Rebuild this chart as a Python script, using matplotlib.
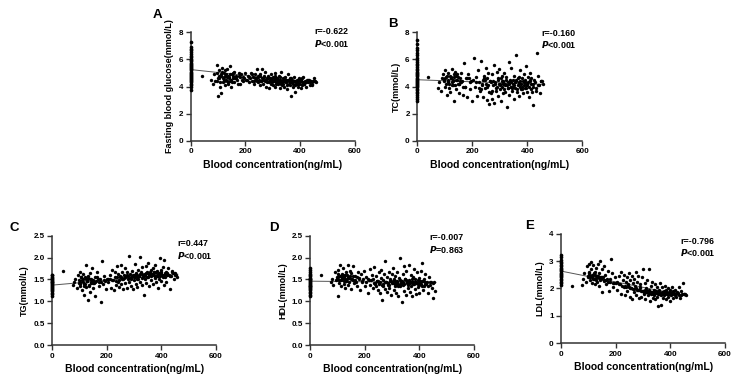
import numpy as np
import matplotlib
matplotlib.use("Agg")
import matplotlib.pyplot as plt

plt.rcParams['font.family'] = ['Liberation Sans', 'DejaVu Sans']
plt.rcParams['font.weight'] = 'bold'

# blood concentration (ng/mL), shared by all five panels
conc = [40, 75, 80, 85, 90, 95, 98, 100, 102, 105,
        108, 110, 112, 115, 118, 120, 122, 125, 128, 130,
        132, 135, 138, 140, 142, 145, 148, 150, 155, 158,
        160, 165, 170, 175, 180, 182, 185, 190, 195, 200,
        205, 210, 215, 218, 220, 225, 228, 230, 235, 238,
        240, 242, 245, 248, 250, 252, 255, 258, 260, 262,
        265, 268, 270, 272, 275, 278, 280, 282, 285, 288,
        290, 292, 295, 298, 300, 302, 305, 308, 310, 312,
        315, 318, 320, 322, 325, 328, 330, 332, 335, 338,
        340, 342, 345, 348, 350, 352, 355, 358, 360, 362,
        365, 368, 370, 372, 375, 378, 380, 382, 385, 388,
        390, 392, 395, 398, 400, 402, 405, 408, 410, 412,
        415, 418, 420, 425, 430, 435, 440, 445, 450, 458,
        97, 103, 107, 113, 117, 123, 127, 133, 137, 143,
        147, 153, 163, 172, 188, 212, 232, 247, 257, 267,
        277, 287, 297, 303, 307, 313, 317, 323, 327, 333,
        337, 343, 347, 353, 357, 363, 367, 373, 377, 383,
        387, 393, 397, 403, 407, 413, 422, 432, 442, 448,
        101, 111, 121, 126, 131, 141, 151, 156, 166, 178,
        193, 203, 223, 236, 244, 253, 263, 273, 283, 293,
        299, 309, 319, 329, 339, 349, 359, 369, 379, 389,
        399, 409, 419, 428, 438, 453, 311, 341, 371, 396]

glu = [4.8, 4.5, 4.2, 4.9, 4.4, 5.0, 5.6, 3.3, 4.6, 5.2,
       4.0, 3.5, 4.8, 5.4, 4.3, 4.7, 5.0, 4.1, 4.9, 4.5,
       5.3, 4.2, 4.8, 4.6, 5.5, 4.4, 4.0, 4.9, 4.6, 5.1,
       4.3, 4.8, 4.5, 5.0, 4.2, 4.7, 4.9, 4.4, 4.6, 5.0,
       4.5, 4.8, 4.3, 4.6, 5.0, 4.4, 4.7, 4.2, 4.9, 4.5,
       4.6, 5.3, 4.3, 4.8, 4.5, 4.1, 4.9, 4.4, 5.3, 4.6,
       4.2, 4.7, 4.5, 5.1, 4.0, 4.6, 4.3, 4.8, 4.4, 3.9,
       4.6, 4.2, 4.9, 4.4, 4.1, 4.7, 4.5, 4.0, 5.0, 4.3,
       4.6, 4.2, 4.4, 4.8, 3.9, 4.5, 4.3, 5.1, 4.1, 4.6,
       4.4, 4.0, 4.7, 4.3, 4.5, 3.8, 4.9, 4.2, 4.4, 4.6,
       4.1, 3.3, 4.5, 4.3, 4.0, 4.7, 3.6, 4.4, 4.2, 4.5,
       4.3, 4.0, 4.6, 4.2, 4.4, 3.9, 4.5, 4.1, 4.3, 4.7,
       4.2, 4.4, 4.0, 4.5, 4.3, 4.1, 4.4, 4.2, 4.6, 4.3,
       4.4, 4.8, 4.3, 5.1, 4.6, 4.4, 5.2, 4.7, 4.3, 4.9,
       4.5, 4.8, 4.6, 4.2, 4.5, 4.7, 4.4, 4.7, 4.4, 4.8,
       4.5, 4.3, 4.6, 4.4, 4.8, 4.2, 4.5, 4.3, 4.7, 4.4,
       4.2, 4.6, 4.4, 4.1, 4.5, 4.3, 4.6, 4.2, 4.4, 4.1,
       4.3, 4.5, 4.2, 4.4, 4.6, 4.2, 4.3, 4.5, 4.1, 4.4,
       4.6, 4.9, 4.5, 4.8, 4.4, 4.7, 4.3, 5.0, 4.6, 4.8,
       4.7, 4.5, 4.9, 4.6, 4.4, 4.8, 4.5, 4.4, 4.6, 4.5,
       4.3, 4.6, 4.5, 4.2, 4.4, 4.3, 4.5, 4.3, 4.4, 4.2,
       4.4, 4.2, 4.3, 4.5, 4.3, 4.4, 4.6, 4.5, 4.3, 4.5]

tc = [4.7, 3.9, 4.3, 3.7, 4.6, 4.9, 4.4, 5.2, 4.0, 4.7,
      3.4, 4.5, 5.0, 4.2, 4.8, 3.6, 4.6, 5.3, 4.1, 4.4,
      2.9, 4.7, 5.1, 3.8, 4.5, 4.9, 4.2, 3.5, 4.6, 5.0,
      4.3, 3.4, 5.7, 4.0, 4.6, 3.2, 4.9, 3.8, 4.4, 2.9,
      6.1, 4.0, 4.7, 3.3, 5.2, 4.3, 3.7, 5.9, 4.1, 4.5,
      3.2, 4.8, 3.9, 5.4, 4.2, 3.0, 4.6, 5.0, 3.6, 2.7,
      4.4, 3.5, 4.9, 3.1, 4.1, 5.6, 2.8, 4.3, 3.7, 5.1,
      4.0, 3.3, 4.6, 5.3, 3.8, 4.2, 2.9, 4.8, 3.5, 4.4,
      5.0, 3.6, 4.1, 4.7, 2.5, 4.3, 3.9, 5.8, 3.4, 4.5,
      4.0, 5.4, 3.7, 4.2, 3.1, 4.8, 3.9, 4.4, 6.3, 3.6,
      4.1, 4.7, 3.3, 4.4, 5.2, 3.8, 4.0, 4.6, 3.5, 4.9,
      3.9, 4.3, 5.5, 3.6, 4.1, 4.7, 3.2, 4.4, 5.0, 3.8,
      4.2, 3.6, 2.6, 4.5, 3.9, 6.5, 4.8, 3.5, 4.4, 4.2,
      4.5, 4.2, 4.8, 4.4, 3.9, 4.6, 4.3, 4.9, 4.1, 4.5,
      4.7, 4.2, 4.4, 4.0, 4.6, 4.3, 3.8, 4.5, 4.1, 4.3,
      4.4, 3.9, 4.2, 4.6, 4.0, 4.3, 3.8, 4.5, 4.1, 4.2,
      4.4, 3.9, 4.5, 4.1, 4.3, 3.8, 4.6, 4.0, 4.2, 4.4,
      4.1, 4.5, 3.9, 4.3, 4.0, 4.6, 4.2, 3.7, 4.1, 4.4,
      4.6, 4.3, 4.7, 4.1, 4.5, 4.8, 4.2, 4.4, 4.0, 4.6,
      4.3, 4.5, 3.9, 4.2, 4.6, 4.0, 4.4, 3.7, 4.2, 4.5,
      4.1, 4.4, 4.2, 3.9, 4.3, 4.0, 4.5, 4.2, 3.8, 4.3,
      4.2, 4.5, 4.0, 4.3, 4.1, 4.4, 4.2, 4.0, 4.3, 4.1]

tg = [1.70, 1.38, 1.45, 1.52, 1.30, 1.60, 1.42, 1.68, 1.35, 1.55,
      1.25, 1.48, 1.62, 1.40, 1.15, 1.55, 1.82, 1.33, 1.47, 1.03,
      1.58, 1.36, 1.65, 1.22, 1.50, 1.75, 1.42, 1.30, 1.56, 1.12,
      1.46, 1.68, 1.34, 1.52, 0.98, 1.93, 1.40, 1.58, 1.28, 1.50,
      1.43, 1.60, 1.30, 1.72, 1.48, 1.25, 1.55, 1.66, 1.38, 1.80,
      1.45, 1.62, 1.32, 1.55, 1.84, 1.40, 1.68, 1.27, 1.52, 1.60,
      1.75, 1.42, 1.58, 1.30, 1.66, 1.50, 2.03, 1.44, 1.62, 1.36,
      1.55, 1.70, 1.28, 1.60, 1.48, 1.85, 1.40, 1.64, 1.52, 1.33,
      1.72, 1.58, 2.02, 1.45, 1.66, 1.38, 1.78, 1.55, 1.15, 1.62,
      1.50, 1.80, 1.42, 1.68, 1.56, 1.88, 1.35, 1.64, 1.72, 1.48,
      1.60, 1.76, 1.40, 1.66, 1.54, 1.82, 1.45, 1.70, 1.58, 1.30,
      1.64, 1.52, 2.00, 1.72, 1.46, 1.60, 1.78, 1.38, 1.95, 1.55,
      1.68, 1.45, 1.62, 1.75, 1.28, 1.58, 1.70, 1.50, 1.65, 1.56,
      1.48, 1.40, 1.56, 1.44, 1.35, 1.52, 1.46, 1.38, 1.50, 1.43,
      1.47, 1.41, 1.55, 1.44, 1.48, 1.52, 1.46, 1.57, 1.50, 1.55,
      1.58, 1.52, 1.60, 1.55, 1.62, 1.50, 1.57, 1.63, 1.54, 1.60,
      1.58, 1.64, 1.55, 1.61, 1.66, 1.57, 1.62, 1.68, 1.56, 1.60,
      1.63, 1.58, 1.66, 1.60, 1.55, 1.65, 1.60, 1.57, 1.64, 1.61,
      1.44, 1.50, 1.40, 1.47, 1.53, 1.42, 1.48, 1.45, 1.51, 1.43,
      1.46, 1.52, 1.49, 1.55, 1.48, 1.56, 1.53, 1.59, 1.54, 1.57,
      1.56, 1.61, 1.58, 1.63, 1.59, 1.65, 1.60, 1.62, 1.66, 1.58,
      1.62, 1.59, 1.64, 1.61, 1.66, 1.60, 1.57, 1.63, 1.59, 1.65]

hdl = [1.60, 1.45, 1.52, 1.38, 1.66, 1.48, 1.55, 1.13, 1.72, 1.42,
       1.58, 1.84, 1.35, 1.62, 1.50, 1.75, 1.40, 1.56, 1.30, 1.68,
       1.46, 1.60, 1.82, 1.38, 1.54, 1.70, 1.28, 1.64, 1.48, 1.80,
       1.42, 1.58, 1.34, 1.66, 1.50, 1.26, 1.62, 1.44, 1.70, 1.36,
       1.56, 1.20, 1.48, 1.74, 1.38, 1.60, 1.30, 1.52, 1.78, 1.42,
       1.34, 1.58, 1.46, 1.25, 1.66, 1.40, 1.18, 1.54, 1.72, 1.02,
       1.48, 1.36, 1.62, 1.28, 1.92, 1.44, 1.22, 1.56, 1.38, 1.68,
       1.30, 1.50, 1.14, 1.62, 1.42, 1.76, 1.26, 1.48, 1.36, 1.58,
       1.20, 1.66, 1.40, 1.12, 1.54, 1.34, 2.00, 1.46, 0.98, 1.62,
       1.38, 1.80, 1.24, 1.52, 1.14, 1.70, 1.42, 1.30, 1.84, 1.48,
       1.22, 1.60, 1.36, 1.12, 1.56, 1.44, 1.74, 1.28, 1.50, 1.16,
       1.42, 1.66, 1.32, 1.54, 1.20, 1.46, 1.70, 1.36, 1.87, 1.26,
       1.50, 1.34, 1.62, 1.40, 1.18, 1.56, 1.44, 1.30, 1.08, 1.24,
       1.52, 1.62, 1.48, 1.58, 1.54, 1.46, 1.60, 1.50, 1.56, 1.44,
       1.58, 1.52, 1.48, 1.55, 1.46, 1.50, 1.42, 1.47, 1.44, 1.40,
       1.45, 1.38, 1.46, 1.42, 1.50, 1.40, 1.44, 1.36, 1.48, 1.42,
       1.46, 1.40, 1.52, 1.44, 1.38, 1.47, 1.42, 1.50, 1.40, 1.45,
       1.42, 1.48, 1.38, 1.44, 1.40, 1.46, 1.43, 1.36, 1.45, 1.41,
       1.55, 1.48, 1.60, 1.52, 1.46, 1.56, 1.50, 1.58, 1.45, 1.53,
       1.50, 1.44, 1.48, 1.40, 1.46, 1.42, 1.38, 1.45, 1.41, 1.47,
       1.43, 1.40, 1.46, 1.38, 1.44, 1.48, 1.41, 1.45, 1.39, 1.44,
       1.42, 1.46, 1.40, 1.44, 1.38, 1.43, 1.47, 1.41, 1.45, 1.40]

ldl = [2.10, 2.12, 2.35, 2.55, 2.25, 2.80, 2.40, 2.90, 2.60, 2.30,
       2.70, 2.95, 2.20, 2.50, 2.85, 2.35, 2.60, 2.15, 2.75, 2.45,
       2.25, 2.90, 2.55, 2.10, 3.00, 2.40, 2.70, 1.85, 2.30, 2.80,
       2.50, 2.15, 2.65, 1.90, 2.35, 3.08, 2.55, 2.05, 2.40, 2.20,
       1.95, 2.45, 2.15, 2.60, 1.80, 2.30, 2.05, 2.50, 1.75, 2.25,
       2.40, 1.90, 2.15, 2.55, 1.70, 2.30, 2.00, 2.45, 1.60, 2.20,
       1.85, 2.35, 2.10, 2.60, 1.75, 2.25, 1.95, 2.45, 1.65, 2.15,
       2.05, 1.70, 2.40, 1.90, 2.70, 1.80, 2.20, 1.60, 2.00, 1.85,
       2.30, 1.75, 2.70, 1.95, 1.55, 2.10, 1.80, 2.25, 1.65, 1.95,
       1.75, 2.15, 1.60, 1.90, 2.05, 1.70, 1.35, 1.95, 1.80, 2.20,
       1.38, 1.85, 2.05, 1.65, 1.90, 1.75, 2.10, 1.60, 1.95, 1.80,
       1.70, 2.00, 1.85, 1.55, 1.95, 1.75, 2.05, 1.65, 1.90, 1.80,
       1.75, 1.95, 1.70, 1.85, 2.05, 1.65, 1.90, 2.20, 1.80, 1.75,
       2.45, 2.55, 2.40, 2.50, 2.35, 2.48, 2.30, 2.45, 2.38, 2.42,
       2.35, 2.40, 2.30, 2.25, 2.20, 2.15, 2.10, 2.05, 2.00, 1.98,
       1.95, 2.00, 1.92, 1.88, 1.95, 1.85, 1.90, 1.82, 1.88, 1.85,
       1.80, 1.86, 1.82, 1.78, 1.85, 1.80, 1.76, 1.84, 1.80, 1.86,
       1.82, 1.78, 1.86, 1.80, 1.84, 1.78, 1.82, 1.76, 1.80, 1.78,
       2.50, 2.42, 2.55, 2.38, 2.45, 2.32, 2.40, 2.28, 2.35, 2.25,
       2.18, 2.22, 2.10, 2.05, 2.12, 2.02, 1.98, 2.00, 1.95, 1.92,
       1.90, 1.88, 1.92, 1.85, 1.82, 1.86, 1.80, 1.84, 1.78, 1.83,
       1.80, 1.85, 1.78, 1.82, 1.76, 1.80, 1.95, 1.88, 1.84, 1.79]

# values of the samples with concentration 0 (stacked on the y axis)
glu0 = [3.72, 3.95, 4.08, 4.21, 4.3, 4.38, 4.47, 4.55, 4.62, 4.71, 4.8, 4.86,
        4.95, 5.03, 5.1, 5.19, 5.26, 5.34, 5.42, 5.5, 5.57, 5.66, 5.74, 5.85,
        5.93, 6.04, 6.15, 6.27, 6.38, 6.52, 6.66, 6.78, 6.95, 7.28]
tc0 = [2.92, 3.1, 3.25, 3.4, 3.52, 3.63, 3.75, 3.84, 3.93, 4.02, 4.1, 4.18,
       4.27, 4.35, 4.43, 4.5, 4.58, 4.66, 4.74, 4.83, 4.91, 5.0, 5.1, 5.2,
       5.31, 5.43, 5.55, 5.68, 5.82, 5.96, 6.12, 6.3, 6.48, 6.7, 6.85, 7.15, 7.45]
tg0 = [1.12, 1.16, 1.2, 1.23, 1.26, 1.29, 1.31, 1.33, 1.35, 1.37, 1.39, 1.41,
       1.43, 1.45, 1.47, 1.49, 1.51, 1.53, 1.56, 1.59, 1.61]
hdl0 = [1.12, 1.15, 1.19, 1.22, 1.25, 1.28, 1.3, 1.32, 1.34, 1.36, 1.38, 1.4,
        1.42, 1.44, 1.46, 1.48, 1.5, 1.52, 1.54, 1.57, 1.6, 1.63, 1.67, 1.72, 1.77]
ldl0 = [2.12, 2.18, 2.24, 2.3, 2.35, 2.4, 2.45, 2.5, 2.54, 2.58, 2.62, 2.66,
        2.7, 2.75, 2.8, 2.86, 2.92, 2.98, 3.05, 3.13, 3.22]

# regression line: value at 0 and at 460 ng/mL
fit_x = [0, 460]
glu_fit = [5.25, 4.25]
tc_fit = [4.5, 4.15]
tg_fit = [1.37, 1.62]
hdl_fit = [1.46, 1.43]
ldl_fit = [2.63, 1.72]

letters = ['A', 'B', 'C', 'D', 'E']
ylabels = ['Fasting blood glucose(mmol/L)', 'TC(mmol/L)', 'TG(mmol/L)',
           'HDL(mmol/L)', 'LDL(mmol/L)']
r_text = ['r=-0.622', 'r=-0.160', 'r=0.447', 'r=-0.007', 'r=-0.796']
p_text = ['<0.001', '<0.001', '<0.001', '=0.863', '<0.001']

W, H = 749, 392
fig = plt.figure(figsize=(W / 100, H / 100), dpi=100)


def px_axes(left, top, right, bottom):
    return fig.add_axes([left / W, 1 - bottom / H, (right - left) / W, (bottom - top) / H])


panels = [
    # (axes box px, letter pos, stats pos, y, y0, fit, yticks, fmt)
    ((190.7, 32.3, 354.7, 140.7), (153, 15), (314, 32), glu, glu0, glu_fit, [0, 2, 4, 6, 8], '%d'),
    ((417.3, 32.3, 582.3, 140.7), (388, 24), (541, 33), tc, tc0, tc_fit, [0, 2, 4, 6, 8], '%d'),
    ((52.3, 235.7, 216.0, 345.0), (9, 228), (177, 244), tg, tg0, tg_fit, [0, 0.5, 1.0, 1.5, 2.0, 2.5], '%.1f'),
    ((310.3, 235.7, 474.0, 345.0), (269, 228), (429, 238), hdl, hdl0, hdl_fit, [0, 0.5, 1.0, 1.5, 2.0, 2.5], '%.1f'),
    ((561.3, 233.7, 725.0, 343.0), (525, 226), (680, 241), ldl, ldl0, ldl_fit, [0, 1, 2, 3, 4], '%d'),
]

for i, (box, lpos, spos, yv, y0, fit, yt, fmt) in enumerate(panels):
    ax = px_axes(*box)
    ax.scatter(conc, yv, s=6, c='black', linewidths=0, clip_on=False, zorder=3)
    ax.scatter(np.zeros(len(y0)), y0, s=7, c='black', linewidths=0, clip_on=False, zorder=3)
    ax.plot(fit_x, fit, color='#555555', lw=0.7, zorder=2)
    ax.set_xlim(0, 600)
    ax.set_ylim(yt[0], yt[-1])
    ax.set_xticks([0, 200, 400, 600])
    ax.set_yticks(yt)
    ax.yaxis.set_major_formatter(plt.FormatStrFormatter(fmt))
    for s in ['top', 'right']:
        ax.spines[s].set_visible(False)
    for s in ['left', 'bottom']:
        ax.spines[s].set_linewidth(1.1)
        ax.spines[s].set_color('#333333')
    ax.tick_params(length=3.5, width=1.0, labelsize=5.8, pad=2, color='#333333')
    for lab in ax.get_xticklabels() + ax.get_yticklabels():
        lab.set_fontweight('bold')
    ax.set_xlabel('Blood concentration(ng/mL)', fontsize=7.5, fontweight='bold', labelpad=3)
    ax.set_ylabel(ylabels[i], fontsize=6.5, fontweight='bold', labelpad=3)
    fig.text(lpos[0] / W, 1 - lpos[1] / H, letters[i], fontsize=9.5, fontweight='bold',
             ha='left', va='center')
    fig.text(spos[0] / W, 1 - spos[1] / H, r_text[i], fontsize=6.4, fontweight='bold',
             ha='left', va='center')
    fig.text(spos[0] / W, 1 - (spos[1] + 11.5) / H, r'$\bf{\it{P}}$' + p_text[i], fontsize=6.4,
             fontweight='bold', ha='left', va='center')

fig.savefig('out.png', dpi=100)
